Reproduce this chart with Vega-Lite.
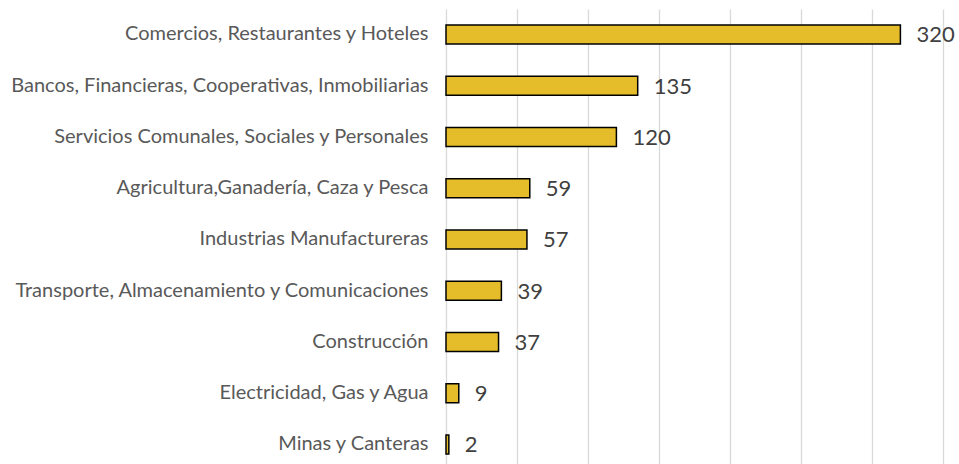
{
  "$schema": "https://vega.github.io/schema/vega-lite/v6.json",
  "width": 497,
  "height": 455,
  "autosize": {"type": "none"},
  "padding": {"left": 446, "top": 9, "right": 16, "bottom": 0},
  "background": "white",
  "config": {"view": {"stroke": null}, "font": "Lato"},
  "data": {"values": [
    {"sector": "Comercios, Restaurantes y Hoteles", "valor": 320},
    {"sector": "Bancos, Financieras, Cooperativas, Inmobiliarias", "valor": 135},
    {"sector": "Servicios Comunales, Sociales y Personales", "valor": 120},
    {"sector": "Agricultura,Ganadería, Caza y Pesca", "valor": 59},
    {"sector": "Industrias Manufactureras", "valor": 57},
    {"sector": "Transporte, Almacenamiento y Comunicaciones", "valor": 39},
    {"sector": "Construcción", "valor": 37},
    {"sector": "Electricidad, Gas y Agua", "valor": 9},
    {"sector": "Minas y Canteras", "valor": 2}
  ]},
  "encoding": {
    "y": {
      "field": "sector", "type": "nominal", "sort": null,
      "scale": {"paddingInner": 0.63, "paddingOuter": 0.254, "align": 0.615},
      "axis": {"title": null, "domain": false, "ticks": false, "labelPadding": 18, "labelFontSize": 20, "labelColor": "#595959", "labelFont": "Lato", "labelLimit": 0}
    },
    "x": {
      "field": "valor", "type": "quantitative",
      "scale": {"domain": [0, 350], "nice": false},
      "axis": {"title": null, "domain": false, "ticks": false, "labels": false, "grid": true, "gridColor": "#d9d9d9", "gridWidth": 1.3, "values": [0, 50, 100, 150, 200, 250, 300, 350]}
    }
  },
  "layer": [
    {"mark": {"type": "bar", "fill": "#E5BC29", "stroke": "#000000", "strokeWidth": 1.5}},
    {"mark": {"type": "text", "align": "left", "baseline": "middle", "dx": 16, "dy": 1, "fontSize": 22, "color": "#404040", "font": "Lato"},
     "encoding": {"text": {"field": "valor", "type": "quantitative"}}}
  ]
}
